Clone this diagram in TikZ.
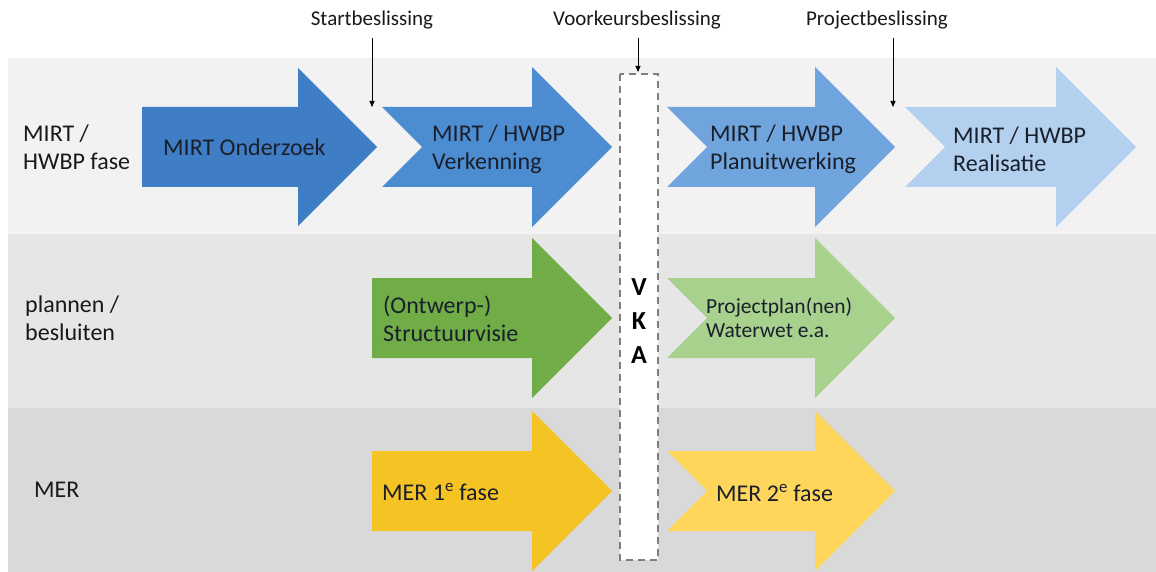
\documentclass[tikz,border=0pt]{standalone}
\usepackage{fontspec}
\setmainfont{Carlito}
\usetikzlibrary{arrows.meta}

\definecolor{bandA}{HTML}{F2F2F2}
\definecolor{bandB}{HTML}{E6E6E6}
\definecolor{bandC}{HTML}{D9D9D9}
\definecolor{blueA}{HTML}{3F7EC5}
\definecolor{blueB}{HTML}{4C8CD1}
\definecolor{blueC}{HTML}{6FA5DC}
\definecolor{blueD}{HTML}{B3D0EF}
\definecolor{greenA}{HTML}{70AD47}
\definecolor{greenB}{HTML}{A9D18E}
\definecolor{goldA}{HTML}{F6C324}
\definecolor{goldB}{HTML}{FFD65C}
\definecolor{inktext}{HTML}{1A1F2C}
\definecolor{dashgrey}{HTML}{7F7F7F}

\tikzset{
  band/.style={fill=#1, draw=none},
  phase/.style={fill=#1, draw=none},
  lbl/.style={anchor=west, inner sep=0pt, align=left, text=inktext,
    font=\fontsize{24}{28}\selectfont},
  rowlbl/.style={anchor=west, inner sep=0pt, align=left, text=black!90,
    font=\fontsize{24}{28}\selectfont},
  decision/.style={inner sep=0pt, text=black!90, font=\fontsize{21}{25}\selectfont},
  marker/.style={-{Triangle[length=6pt,width=5pt]}, line width=0.9pt, draw=black}
}

\begin{document}
\begin{tikzpicture}[x=1pt, y=-1pt]
\useasboundingbox[fill=white] (0,0) rectangle (1156,572);

% horizontal swimlanes
\path[band=bandA] (8,58) rectangle (1156,234);
\path[band=bandB] (8,234) rectangle (1156,408);
\path[band=bandC] (8,408) rectangle (1156,572);

% lane 1: MIRT / HWBP phases
\path[phase=blueA] (142,107) -- (298,107) -- (298,68) -- (377,147) -- (298,226)
  -- (298,187) -- (142,187) -- cycle;
\path[phase=blueB] (382,107) -- (532,107) -- (532,67) -- (612,147) -- (532,227)
  -- (532,187) -- (382,187) -- (422,147) -- cycle;
\path[phase=blueC] (667,107) -- (815,107) -- (815,67) -- (895,147) -- (815,227)
  -- (815,187) -- (667,187) -- (707,147) -- cycle;
\path[phase=blueD] (905,107) -- (1056,107) -- (1056,67) -- (1136,147) -- (1056,227)
  -- (1056,187) -- (905,187) -- (945,147) -- cycle;

% lane 2: plans and decisions
\path[phase=greenA] (372,278) -- (532,278) -- (532,238) -- (612,318) -- (532,398)
  -- (532,358) -- (372,358) -- cycle;
\path[phase=greenB] (667,278) -- (815,278) -- (815,238) -- (895,318) -- (815,398)
  -- (815,358) -- (667,358) -- (707,318) -- cycle;

% lane 3: MER
\path[phase=goldA] (372,451) -- (532,451) -- (532,411) -- (612,491) -- (532,571)
  -- (532,531) -- (372,531) -- cycle;
\path[phase=goldB] (667,451) -- (815,451) -- (815,411) -- (895,491) -- (815,571)
  -- (815,531) -- (667,531) -- (707,491) -- cycle;

% preferred alternative column
\draw[fill=white, draw=dashgrey, line width=1.3pt, dash pattern=on 7pt off 5pt]
  (620,74) rectangle (658,560);
\node[inner sep=0pt, align=center, text=black,
  font=\fontsize{26}{34}\selectfont\bfseries] (vka) at (639,321) {V\\K\\A};

% row labels
\node[rowlbl] (rowmirt) at (23,147) {MIRT /\\HWBP fase};
\node[rowlbl] (rowplan) at (25,318) {plannen /\\besluiten};
\node[rowlbl] (rowmer) at (34,490) {MER};

% phase texts
\node[lbl] (onderzoek) at (163,147) {MIRT Onderzoek};
\node[lbl] (verkenning) at (432,149) {MIRT / HWBP\\Verkenning};
\node[lbl] (planuitw) at (710,149) {MIRT / HWBP\\Planuitwerking};
\node[lbl] (realisatie) at (953,149) {MIRT / HWBP\\Realisatie};
\node[lbl] (structuur) at (383,319) {(Ontwerp-)\\Structuurvisie};
\node[lbl, font=\fontsize{21.5}{24}\selectfont] (projplan) at (706,318)
  {Projectplan(nen)\\Waterwet e.a.};
\node[lbl] (merone) at (382,492) {MER 1\textsuperscript{e} fase};
\node[lbl] (mertwo) at (716,493) {MER 2\textsuperscript{e} fase};

% decision moments
\node[decision] (startb) at (372,20) {Startbeslissing};
\node[decision] (voorkb) at (637,20) {Voorkeursbeslissing};
\node[decision] (projb) at (877,20) {Projectbeslissing};

\coordinate (startb-tip) at (372,107);
\coordinate (voorkb-tip) at (638,72);
\coordinate (projb-top) at (893,38);
\coordinate (projb-tip) at (893,107);

\draw[marker] (startb.south |- projb-top) -- (startb-tip);
\draw[marker] (voorkb-tip |- projb-top) -- (voorkb-tip);
\draw[marker] (projb-top) -- (projb-tip);
\end{tikzpicture}
\end{document}
